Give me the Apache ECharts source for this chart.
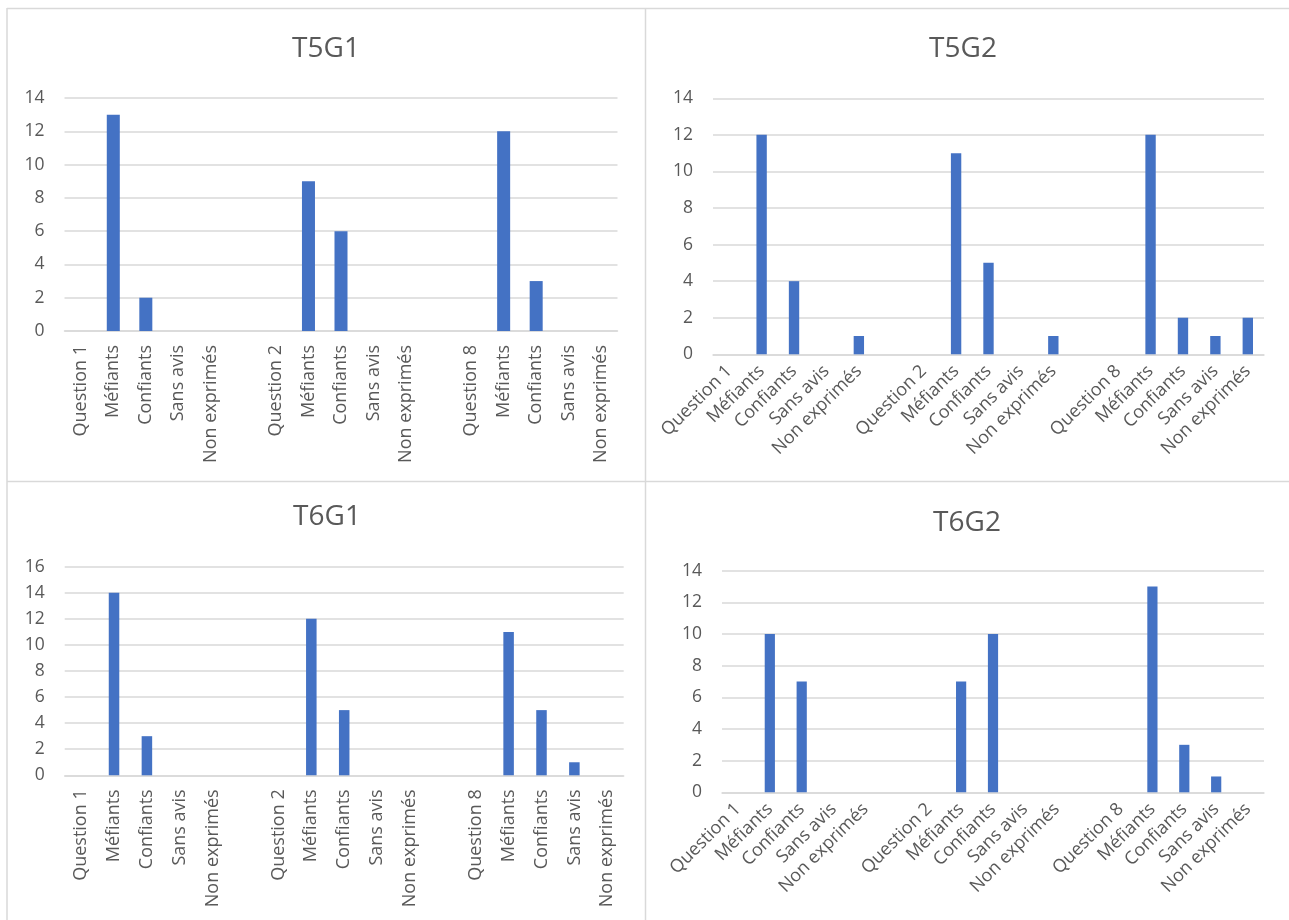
<!DOCTYPE html>
<html>
<head>
<meta charset="utf-8">
<script src="https://cdn.jsdelivr.net/npm/echarts@6/dist/echarts.min.js"></script>
<style>
html,body{margin:0;padding:0;background:#fff;}
#c{width:1289px;height:920px;}
</style>
</head>
<body>
<div id="c"></div>
<script>
// ---- data ----
const categories = ["Question 1","Méfiants","Confiants","Sans avis","Non exprimés","",
                    "Question 2","Méfiants","Confiants","Sans avis","Non exprimés","",
                    "Question 8","Méfiants","Confiants","Sans avis","Non exprimés"];
const chartTitles = ["T5G1","T5G2","T6G1","T6G2"];
const t5g1 = [null,13,2,0,0,null, null,9,6,0,0,null, null,12,3,0,0];
const t5g2 = [null,12,4,0,1,null, null,11,5,0,1,null, null,12,2,1,2];
const t6g1 = [null,14,3,0,0,null, null,12,5,0,0,null, null,11,5,1,0];
const t6g2 = [null,10,7,0,0,null, null,7,10,0,0,null, null,13,3,1,0];
const yMax = [14,14,16,14];
const yInterval = 2;

// ---- layout / style ----
const FONT = '"Open Sans", "Noto Sans", sans-serif';
const TXT = '#595959';
const GRIDC = '#d9d9d9';
const BAR = '#4472C4';
const grids = [
  {left:64.5, top:98,    width:553, height:233},
  {left:713,  top:98.3,  width:551, height:256},
  {left:64.7, top:566.7, width:559, height:208.6},
  {left:722,  top:570.7, width:542, height:221.6}
];
const titlePos = [[326,49],[963,49],[327,517],[967,523]];
const rot = [90,45,90,45];
const barW = ['40%','32%','32%','32%'];
const seriesData = [t5g1,t5g2,t6g1,t6g2];

const chart = echarts.init(document.getElementById('c'), null, {renderer:'canvas'});
const option = {
  backgroundColor:'#fff',
  animation:false,
  textStyle:{fontFamily:FONT},
  title: chartTitles.map((t,i)=>({
    text:t, left:titlePos[i][0], top:titlePos[i][1], padding:0,
    textAlign:'center', textVerticalAlign:'middle',
    textStyle:{fontFamily:FONT,fontSize:28,fontWeight:'normal',color:TXT}
  })),
  grid: grids.map(g=>Object.assign({containLabel:false},g)),
  xAxis: grids.map((g,i)=>({
    type:'category', gridIndex:i, data:categories,
    axisLine:{show:true,lineStyle:{color:GRIDC,width:1.5}},
    axisTick:{show:false},
    axisLabel:{interval:0, rotate:rot[i], margin:rot[i]===90?14:14,
      fontFamily:FONT, fontSize:18, color:TXT}
  })),
  yAxis: grids.map((g,i)=>({
    type:'value', gridIndex:i, min:0, max:yMax[i], interval:yInterval,
    axisLine:{show:false}, axisTick:{show:false},
    splitLine:{lineStyle:{color:GRIDC,width:1.5}},
    axisLabel:{margin:20, fontFamily:FONT, fontSize:17.5, color:TXT}
  })),
  series: seriesData.map((d,i)=>({
    type:'bar', xAxisIndex:i, yAxisIndex:i, data:d,
    barWidth:barW[i], itemStyle:{color:BAR}
  })),
  graphic:[
    {type:'line', shape:{x1:7,y1:8.5,x2:1289,y2:8.5}, style:{stroke:GRIDC,lineWidth:1.5}, silent:true},
    {type:'line', shape:{x1:7,y1:8,x2:7,y2:920}, style:{stroke:GRIDC,lineWidth:1.5}, silent:true},
    {type:'line', shape:{x1:645.5,y1:8,x2:645.5,y2:920}, style:{stroke:GRIDC,lineWidth:1.5}, silent:true},
    {type:'line', shape:{x1:7,y1:481.5,x2:1289,y2:481.5}, style:{stroke:GRIDC,lineWidth:1.5}, silent:true}
  ]
};
chart.setOption(option);
</script>
</body>
</html>
